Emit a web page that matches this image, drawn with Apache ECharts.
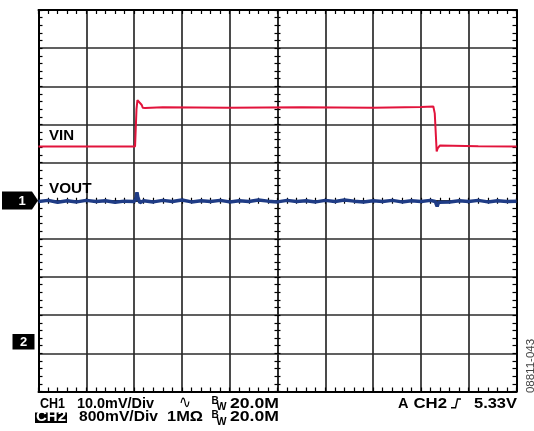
<!DOCTYPE html>
<html lang="en">
<head>
    <meta charset="UTF-8">
    <title>VIN / VOUT scope capture</title>
    <script src="https://cdn.jsdelivr.net/npm/echarts@6.0.0/dist/echarts.min.js"></script>
    <style>
        * { margin: 0; padding: 0; box-sizing: border-box; }
        body { background: #fff; }
        #chart { width: 534px; height: 431px; }
    </style>
</head>
<body>
    <div id="chart"></div>

    <script>
        // screen is 10 x 10 divisions, centre = 0
        const divRange = [-5, 5];

        // VIN trace, in divisions
        const vinX = [-5, -2.98, -2.95, -2.93, -2.89, -2.84, -2.82, -2.77, -2.4, -1.0, 0.5, 2.0, 3.0, 3.26, 3.29, 3.33, 3.35, 3.38, 3.40, 3.44, 4.2, 5];
        const vinY = [1.42, 1.42, 2.4, 2.64, 2.60, 2.51, 2.44, 2.43, 2.45, 2.44, 2.45, 2.44, 2.46, 2.47, 2.29, 1.29, 1.37, 1.42, 1.45, 1.42, 1.43, 1.42];

        // VOUT trace, in divisions
        const voutX = [-5, -4.8, -4.6, -4.4, -4.2, -4.0, -3.8, -3.6, -3.4, -3.2, -3.0, -2.96, -2.94, -2.92, -2.88, -2.8, -2.6, -2.4, -2.2, -2.0, -1.8, -1.6, -1.4, -1.2, -1.0, -0.8, -0.6, -0.4, -0.2, 0, 0.2, 0.4, 0.6, 0.8, 1.0, 1.2, 1.4, 1.6, 1.8, 2.0, 2.2, 2.4, 2.6, 2.8, 3.0, 3.2, 3.3, 3.34, 3.37, 3.4, 3.6, 3.8, 4.0, 4.2, 4.4, 4.6, 4.8, 5];
        const voutY = [-0.02, 0.01, -0.04, 0.0, -0.03, 0.01, -0.02, 0.0, -0.04, -0.01, -0.02, 0.05, 0.22, 0.08, -0.05, 0.0, -0.03, 0.01, -0.02, 0.02, -0.03, 0.0, -0.02, 0.01, -0.03, 0.0, -0.02, 0.02, -0.01, -0.03, 0.01, -0.02, 0.0, -0.03, 0.01, -0.02, 0.02, -0.01, -0.03, 0.0, -0.02, 0.01, -0.03, 0.0, -0.02, 0.01, -0.02, -0.15, -0.04, -0.01, -0.03, 0.0, -0.02, 0.01, -0.03, 0.0, -0.02, -0.01];

        const traceNames = ['VIN', 'VOUT'];
        const footRow1 = ['CH1', '10.0mV/Div', '\u223F', 'B', 'W', '20.0M'];
        const footRow2 = ['CH2', '800mV/Div', '1M\u03A9', 'B', 'W', '20.0M'];
        const trigText = ['A', 'CH2', '5.33V'];
        const figId = '08811-043';

        const chart = echarts.init(document.getElementById('chart'));
        const family = "'Liberation Sans', Arial, sans-serif";
        const gridColor = '#2b2b2b';

        function borderAxis(pos, withSplit) {
            return {
                type: 'value', position: pos, min: divRange[0], max: divRange[1], interval: 1,
                axisLine: { show: true, onZero: false, lineStyle: { color: '#000', width: 2 } },
                axisTick: { show: true, inside: true, length: 4, lineStyle: { color: '#000', width: 1.2 } },
                minorTick: { show: true, splitNumber: 5, length: 4, lineStyle: { color: '#000', width: 1.2 } },
                axisLabel: { show: false },
                splitLine: { show: withSplit, lineStyle: { color: gridColor, width: 1.7 } },
                minorSplitLine: { show: false }
            };
        }

        function centreAxis(pos, inside) {
            return {
                type: 'value', position: pos, min: divRange[0], max: divRange[1], interval: 1,
                axisLine: { show: true, onZero: true, onZeroAxisIndex: 0, lineStyle: { color: gridColor, width: 1.7 } },
                axisTick: { show: true, inside: inside, length: 3, lineStyle: { color: '#000', width: 1.2 } },
                minorTick: { show: true, splitNumber: 5, length: 3, lineStyle: { color: '#000', width: 1.2 } },
                axisLabel: { show: false },
                splitLine: { show: false }
            };
        }

        const zip = (xs, ys) => xs.map((x, i) => [x, ys[i]]);

        const measureCtx = document.createElement('canvas').getContext('2d');

        // text placed by left edge + baseline; optional target width squeezes/stretches it
        function lab(x, base, s, size, targetW, opts) {
            opts = opts || {};
            const font = (opts.weight || 'bold') + ' ' + size + 'px ' + (opts.family || family);
            let sx = 1;
            if (targetW) {
                measureCtx.font = font;
                sx = targetW / measureCtx.measureText(s).width;
            }
            return {
                type: 'text', x: x, y: base - 0.31 * size, scaleX: sx, silent: true, z: 10,
                style: {
                    text: s, fill: opts.fill || '#000', font: font,
                    align: opts.align || 'left', verticalAlign: 'middle'
                }
            };
        }

        chart.setOption({
            animation: false,
            grid: { left: 38.5, right: 17.5, top: 10, bottom: 39.5, containLabel: false },
            xAxis: [
                borderAxis('bottom', true),
                borderAxis('top', false),
                centreAxis('bottom', true),
                centreAxis('bottom', false)
            ],
            yAxis: [
                borderAxis('left', true),
                borderAxis('right', false),
                centreAxis('left', true),
                centreAxis('left', false)
            ],
            series: [
                {
                    name: traceNames[0], type: 'line', xAxisIndex: 0, yAxisIndex: 0,
                    data: zip(vinX, vinY), symbol: 'none', z: 5,
                    lineStyle: { color: '#e2143c', width: 2 }
                },
                {
                    name: traceNames[1], type: 'line', xAxisIndex: 0, yAxisIndex: 0,
                    data: zip(voutX, voutY), symbol: 'none', z: 6,
                    lineStyle: { color: '#1f3c86', width: 3.5 }
                }
            ],
            graphic: [
                lab(49, 141, traceNames[0], 15, 25),
                lab(49, 194, traceNames[1], 15, 42.5),

                // channel markers
                { type: 'polygon', silent: true, shape: { points: [[2, 191.5], [32, 191.5], [38, 200.5], [32, 209.5], [2, 209.5]] }, style: { fill: '#000' } },
                lab(22, 205, '1', 13, null, { fill: '#fff', align: 'center' }),
                { type: 'rect', silent: true, shape: { x: 12.5, y: 334, width: 22, height: 15.5 }, style: { fill: '#000' } },
                lab(23.5, 346.5, '2', 13, null, { fill: '#fff', align: 'center' }),

                // footer row 1
                lab(40, 408.3, footRow1[0], 14, 25),
                lab(77, 408.3, footRow1[1], 14, 77),
                lab(179, 409, footRow1[2], 18, 12, { family: "'DejaVu Sans', sans-serif", weight: 'normal' }),
                lab(211.5, 404, footRow1[3], 10),
                lab(216.5, 410.5, footRow1[4], 11, 10),
                lab(230, 408.3, footRow1[5], 14, 49),

                // footer row 2
                { type: 'rect', silent: true, shape: { x: 35, y: 412.5, width: 32, height: 10.5 }, style: { fill: '#000' } },
                lab(36, 421.8, footRow2[0], 14, 30, { fill: '#fff' }),
                lab(79, 421.5, footRow2[1], 14, 79),
                lab(167, 421.5, footRow2[2], 14, 36),
                lab(211.5, 418, footRow2[3], 10),
                lab(216.5, 425.5, footRow2[4], 11, 10),
                lab(230, 421.5, footRow2[5], 14, 49),

                // trigger
                lab(398, 408.3, trigText[0], 14, 10.5),
                lab(413.5, 408.3, trigText[1], 14, 33.5),
                { type: 'polyline', silent: true, shape: { points: [[451, 407.8], [455.5, 407.8], [457.5, 399], [461, 399]] }, style: { stroke: '#000', lineWidth: 1.4, fill: null } },
                lab(474, 408.3, trigText[2], 14, 43),

                // figure id
                {
                    type: 'text', x: 530.5, y: 366, rotation: Math.PI / 2, silent: true,
                    style: { text: figId, fill: '#444', font: '11.5px ' + family, align: 'center', verticalAlign: 'middle' }
                }
            ]
        });
    </script>
</body>
</html>
